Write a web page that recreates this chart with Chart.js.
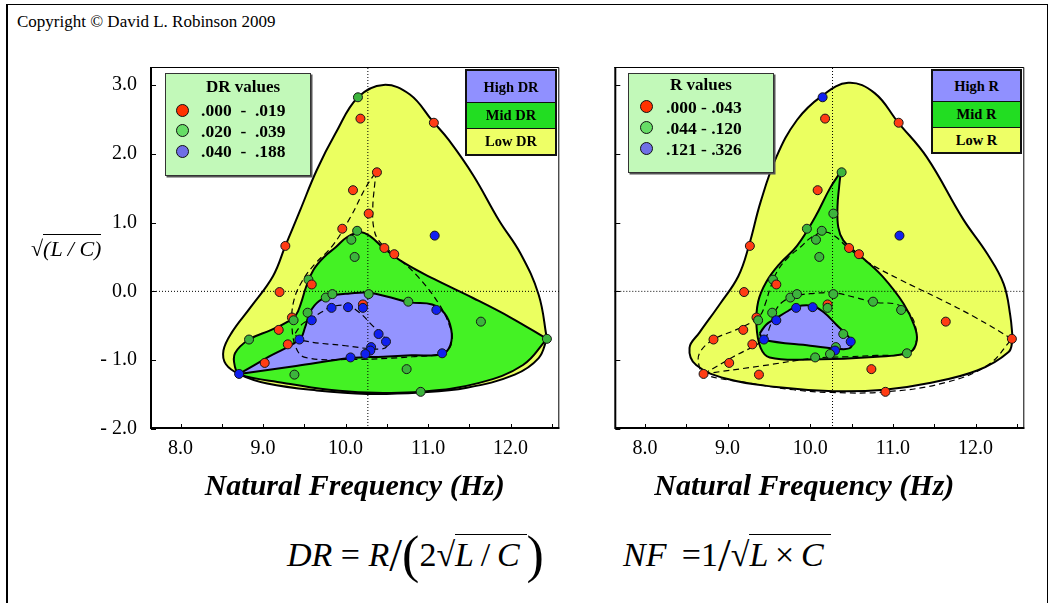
<!DOCTYPE html>
<html><head><meta charset="utf-8">
<script src="https://cdn.jsdelivr.net/npm/chart.js@4.4.0/dist/chart.umd.min.js"></script>
<style>
html,body{margin:0;padding:0;background:#fff;}
body{width:1051px;height:603px;position:relative;overflow:hidden;font-family:"Liberation Serif","Times New Roman",serif;color:#000;}
.abs{position:absolute;white-space:nowrap;}
#frame{left:6px;top:4px;width:1039px;height:700px;border:1px solid #000;border-left-width:2px;}
#copy{left:17px;top:13px;font-size:17px;line-height:1;}
canvas{position:absolute;top:0;}
#c1{left:0;}
#c2{left:580px;}
.valbox{background:#c2f9b9;border:1px solid #333;box-shadow:1.5px 1.5px 0 #555;}
.lt{font-weight:bold;font-size:17px;line-height:20px;height:20px;}
.li{font-weight:bold;font-size:17.5px;line-height:20px;height:20px;}
.dot{position:absolute;width:11px;height:11px;border-radius:50%;border:1.5px solid #111;}
.rbox{border:2px solid #111;box-sizing:border-box;}
.rrow{position:absolute;left:0;right:0;text-align:center;font-weight:bold;font-size:14.5px;box-sizing:border-box;}
.formula{font-size:34px;line-height:34px;height:34px;}
.formula i{font-style:italic;}
.ov{border-top:1.5px solid #000;padding-top:1px;}
.bp{font-size:52px;line-height:0;vertical-align:-6px;}
.sl{font-size:46px;line-height:0;vertical-align:-5px;}
</style>
</head>
<body>
<div id="frame" class="abs"></div>
<div id="copy" class="abs">Copyright © David L. Robinson 2009</div>
<canvas id="c1" width="580" height="520"></canvas>
<canvas id="c2" width="471" height="520"></canvas>

<!-- y axis title -->
<div class="abs" style="left:31px;top:238px;font-size:22px;line-height:1;">√<span class="ov" style="font-style:italic;">(<i>L</i> / <i>C</i>)</span></div>

<!-- left legends -->
<div class="abs valbox" style="left:165px;top:73px;width:144px;height:101px;"></div>
<div class="abs lt" style="left:206px;top:77px;">DR values</div>
<div class="dot" style="left:176px;top:104px;background:#ff3300;"></div>
<div class="dot" style="left:176px;top:124px;background:#66dd66;"></div>
<div class="dot" style="left:176px;top:145px;background:#6f6fe6;"></div>
<div class="abs li" style="left:201px;top:100px;">.000&nbsp;&nbsp;-&nbsp;&nbsp;.019</div>
<div class="abs li" style="left:201px;top:121px;">.020&nbsp;&nbsp;-&nbsp;&nbsp;.039</div>
<div class="abs li" style="left:201px;top:141px;">.040&nbsp;&nbsp;-&nbsp;&nbsp;.188</div>

<div class="abs rbox" style="left:465px;top:69px;width:92px;height:87px;">
  <div class="rrow" style="top:0;height:32px;line-height:32px;background:#9090ff;border-bottom:1px solid #111;">High DR</div>
  <div class="rrow" style="top:32px;height:26px;line-height:25px;background:#22dd22;border-bottom:1px solid #111;">Mid DR</div>
  <div class="rrow" style="top:58px;height:25px;line-height:24px;background:#eeff66;">Low DR</div>
</div>

<!-- right legends -->
<div class="abs valbox" style="left:628px;top:73px;width:144px;height:98px;"></div>
<div class="abs lt" style="left:670px;top:75px;">R values</div>
<div class="dot" style="left:640px;top:100px;background:#ff3300;"></div>
<div class="dot" style="left:640px;top:121px;background:#66dd66;"></div>
<div class="dot" style="left:640px;top:142px;background:#6f6fe6;"></div>
<div class="abs li" style="left:666px;top:97px;">.000 - .043</div>
<div class="abs li" style="left:666px;top:118px;">.044 - .120</div>
<div class="abs li" style="left:666px;top:139px;">.121 - .326</div>

<div class="abs rbox" style="left:931px;top:69px;width:91px;height:85px;">
  <div class="rrow" style="top:0;height:31px;line-height:31px;background:#9090ff;border-bottom:1px solid #111;">High R</div>
  <div class="rrow" style="top:31px;height:26px;line-height:25px;background:#22dd22;border-bottom:1px solid #111;">Mid R</div>
  <div class="rrow" style="top:57px;height:24px;line-height:24px;background:#eeff66;">Low R</div>
</div>

<!-- formulas -->
<div class="abs formula" style="left:287px;top:538px;"><i>DR</i> = <i>R</i><span class="sl">/</span><span class="bp">(</span>2<span>√</span><span class="ov"><i>L</i>&thinsp;/&thinsp;<i>C</i>&thinsp;</span><span class="bp">)</span></div>
<div class="abs formula" style="left:623px;top:538px;"><i>NF</i> &thinsp;=1<span class="sl">/</span><span>√</span><span class="ov"><i>L</i>&thinsp;×&thinsp;<i>C</i>&thinsp;</span></div>

<script>
// ---------- axes ----------
const X_MIN = 7.63, X_MAX = 12.59;
const Y_MIN = -2.0, Y_MAX = 3.26;
const xTickValues = [8, 9, 10, 11, 12];
const xTickLabels = ['8.0', '9.0', '10.0', '11.0', '12.0'];
const xMinorTicks = [8, 8.5, 9, 9.5, 10, 10.5, 11, 11.5, 12, 12.5];
const yTickValues = [-2, -1, 0, 1, 2, 3];
const yTickLabels = ['- 2.0', '- 1.0', '0.0', '1.0', '2.0', '3.0'];
const refX = 10.27;   // dotted vertical line (Hz)
const refY = 0.0;     // dotted horizontal line

// ---------- observations (same points in both panels) ----------
const ptX = [10.15,10.18,11.07,10.38,10.09,10.28,11.08,9.96,10.14,10.07,9.27,10.47,10.59,10.11,9.55,9.59,9.20,9.76,9.84,10.28,10.76,11.10,11.64,10.21,9.83,10.03,10.21,9.54,9.59,9.35,9.37,9.19,8.83,9.44,9.30,10.40,10.49,10.31,10.30,10.24,10.06,11.17,9.02,8.71,9.38,10.74,10.91,12.44];
const ptY = [2.82,2.51,2.45,1.73,1.47,1.13,0.81,0.91,0.88,0.75,0.66,0.63,0.54,0.50,0.17,0.10,-0.01,-0.09,-0.04,-0.04,-0.15,-0.27,-0.44,-0.19,-0.24,-0.23,-0.24,-0.31,-0.42,-0.38,-0.42,-0.56,-0.70,-0.70,-0.77,-0.62,-0.73,-0.81,-0.86,-0.91,-0.96,-0.90,-1.04,-1.20,-1.21,-1.13,-1.46,-0.69];
// class 0 = low (red), 1 = mid (green), 2 = high (blue)
const drClass = [1,0,0,0,0,0,2,0,1,1,0,0,0,1,1,0,0,1,1,1,1,2,1,0,2,2,2,1,2,0,1,0,1,2,0,2,2,2,2,2,2,2,0,2,1,1,1,1];
const rClass  = [2,0,0,1,0,1,2,1,1,1,0,0,0,1,1,0,0,1,1,1,1,1,0,0,2,2,1,1,2,0,1,0,0,2,0,1,2,1,2,1,1,1,0,0,0,0,0,0];

// ---------- region outlines [x, y] ----------
const lowDR = [[12.44,-0.69],[12.34,-0.05],[12.12,0.55],[11.86,1.03],[11.55,1.68],[11.25,2.20],[11.05,2.48],[10.78,2.86],[10.46,3.00],[10.15,2.82],[9.88,2.30],[9.65,1.76],[9.45,1.18],[9.27,0.66],[9.12,0.22],[8.85,-0.23],[8.62,-0.60],[8.52,-0.86],[8.55,-1.06],[8.72,-1.21],[9.05,-1.34],[9.65,-1.44],[10.26,-1.49],[10.90,-1.47],[11.47,-1.40],[12.05,-1.21],[12.34,-0.97],[12.44,-0.69]];
const midDR = [[12.44,-0.69],[12.00,-0.38],[11.55,-0.10],[11.07,0.18],[10.70,0.42],[10.45,0.64],[10.30,0.80],[10.18,0.86],[10.02,0.79],[9.88,0.64],[9.74,0.50],[9.61,0.31],[9.52,0.06],[9.46,-0.17],[9.40,-0.34],[9.30,-0.44],[9.10,-0.56],[8.83,-0.70],[8.66,-0.90],[8.66,-1.10],[8.72,-1.21],[9.25,-1.33],[9.80,-1.43],[10.26,-1.47],[10.91,-1.46],[11.62,-1.33],[12.15,-1.07],[12.44,-0.69]];
const highDR = [[8.71,-1.20],[9.07,-0.95],[9.44,-0.70],[9.51,-0.52],[9.57,-0.30],[9.68,-0.14],[9.84,-0.06],[10.05,-0.03],[10.28,-0.02],[10.55,-0.09],[10.78,-0.16],[11.05,-0.19],[11.20,-0.32],[11.28,-0.55],[11.27,-0.78],[11.17,-0.91],[10.80,-0.93],[10.46,-0.95],[10.06,-0.97],[9.40,-1.085],[8.71,-1.20]];
const lowR = [[12.45,-0.70],[12.42,-0.35],[12.34,0.11],[12.14,0.55],[11.85,1.05],[11.41,1.95],[11.06,2.46],[10.78,2.88],[10.46,3.03],[10.13,2.83],[9.84,2.49],[9.59,1.95],[9.40,1.30],[9.26,0.67],[9.13,0.22],[8.91,-0.18],[8.66,-0.60],[8.54,-0.82],[8.62,-1.07],[8.99,-1.27],[9.59,-1.39],[10.28,-1.45],[10.90,-1.43],[11.41,-1.34],[12.02,-1.15],[12.40,-0.88],[12.45,-0.70]];
const midR = [[10.37,1.74],[10.35,1.52],[10.33,1.23],[10.34,0.93],[10.40,0.74],[10.54,0.58],[10.66,0.46],[10.88,0.21],[11.13,-0.18],[11.26,-0.50],[11.29,-0.71],[11.21,-0.88],[10.81,-0.95],[10.00,-0.99],[9.51,-0.96],[9.40,-0.82],[9.35,-0.50],[9.37,-0.15],[9.47,0.14],[9.63,0.40],[9.84,0.66],[10.06,1.08],[10.24,1.50],[10.37,1.74]];
const highR = [[9.39,-0.61],[9.47,-0.48],[9.59,-0.39],[9.71,-0.30],[9.84,-0.22],[10.02,-0.21],[10.16,-0.30],[10.32,-0.49],[10.47,-0.67],[10.50,-0.80],[10.40,-0.84],[10.00,-0.79],[9.43,-0.70],[9.39,-0.61]];

// ---------- styles ----------
const PT_COLORS = ['#ff3c14', '#3cb43c', '#1020f0'];
const FILL_LOW = '#ebff60', FILL_MID = '#44f224', FILL_HIGH = '#9494ff';
const FONT = '"Liberation Serif", "Times New Roman", serif';

const toXY = arr => arr.map(p => ({x: p[0], y: p[1]}));

const framePlugin = {
  id: 'frameTicks',
  afterDatasetsDraw(chart) {
    const {ctx, chartArea: a, scales: {x, y}} = chart;
    ctx.save();
    ctx.strokeStyle = '#000';
    ctx.lineWidth = 1;
    ctx.beginPath();
    ctx.moveTo(a.left, a.top + 0.5); ctx.lineTo(a.right - 0.5, a.top + 0.5); ctx.lineTo(a.right - 0.5, a.bottom);
    ctx.stroke();
    ctx.lineWidth = 2;
    ctx.beginPath();
    ctx.moveTo(a.left + 1, a.top); ctx.lineTo(a.left + 1, a.bottom - 1); ctx.lineTo(a.right, a.bottom - 1);
    ctx.stroke();
    ctx.lineWidth = 1;
    ctx.beginPath();
    xMinorTicks.forEach(v => { const px = Math.round(x.getPixelForValue(v)) + 0.5; ctx.moveTo(px, a.bottom - 1); ctx.lineTo(px, a.bottom - 5); });
    yTickValues.forEach(v => { const py = Math.round(y.getPixelForValue(v)) + 0.5; ctx.moveTo(a.left + 1, py); ctx.lineTo(a.left + 6, py); });
    ctx.stroke();
    ctx.restore();
  }
};

function regionSet(arr, fillColor, order) {
  return {data: toXY(arr), showLine: true, tension: 0.4, fill: 'shape', backgroundColor: fillColor,
          borderColor: '#000', borderWidth: 2, pointRadius: 0, order: order, borderJoinStyle: 'round'};
}
function dashedSet(arr) {
  return {data: toXY(arr), showLine: true, tension: 0.4, fill: false, borderColor: '#000', borderWidth: 1.2,
          borderDash: [6, 4], pointRadius: 0, order: 2};
}

function makeChart(id, cls, low, mid, high, dashA, dashB, opts) {
  const datasets = [
    {data: ptX.map((x, i) => ({x: x, y: ptY[i]})), showLine: false, pointRadius: 4.5,
     pointBackgroundColor: cls.map(c => PT_COLORS[c]), pointBorderColor: '#161616', pointBorderWidth: 1, order: 0},
    {data: [{x: refX, y: Y_MIN}, {x: refX, y: Y_MAX}], showLine: true, borderColor: '#000', borderWidth: 1, borderDash: [1, 2], pointRadius: 0, order: 1},
    {data: [{x: X_MIN, y: refY}, {x: X_MAX, y: refY}], showLine: true, borderColor: '#000', borderWidth: 1, borderDash: [1, 2], pointRadius: 0, order: 1},
    dashedSet(dashA), dashedSet(dashB),
    regionSet(high, FILL_HIGH, 3), regionSet(mid, FILL_MID, 4), regionSet(low, FILL_LOW, 5)
  ];
  return new Chart(document.getElementById(id), {
    type: 'scatter',
    data: {datasets: datasets},
    options: {
      responsive: false, animation: false, events: [],
      layout: {padding: {top: 67, left: 0, right: opts.right, bottom: 0}},
      plugins: {legend: {display: false}, tooltip: {enabled: false}},
      scales: {
        x: {type: 'linear', min: X_MIN, max: X_MAX,
            grid: {display: false, drawTicks: false}, border: {display: false},
            afterBuildTicks: s => { s.ticks = xTickValues.map(v => ({value: v})); },
            afterFit: s => { s.height = 91; },
            ticks: {autoSkip: false, maxRotation: 0, padding: 8, color: '#000',
                    font: {family: FONT, size: 20},
                    callback: v => xTickLabels[xTickValues.indexOf(v)]},
            title: {display: true, text: opts.title, color: '#000', padding: {top: 0, bottom: 15},
                    font: {family: FONT, size: 30, weight: 'bold', style: 'italic'}}},
        y: {type: 'linear', min: Y_MIN, max: Y_MAX,
            grid: {display: false, drawTicks: false}, border: {display: false},
            afterBuildTicks: s => { s.ticks = yTickValues.map(v => ({value: v})); },
            afterFit: s => { s.width = opts.yWidth; },
            ticks: {display: opts.yLabels, padding: 13, color: '#000', font: {family: FONT, size: 20},
                    callback: v => yTickLabels[yTickValues.indexOf(v)]}}
      }
    },
    plugins: [framePlugin]
  });
}

makeChart('c1', drClass, lowDR, midDR, highDR, midR, highR,
          {right: 20.7, yWidth: 150, yLabels: true, title: 'Natural Frequency (Hz)'});
makeChart('c2', rClass, lowR, midR, highR, midDR, highDR,
          {right: 26.7, yWidth: 34.3, yLabels: false, title: 'Natural Frequency (Hz)    '});
</script>
</body></html>
